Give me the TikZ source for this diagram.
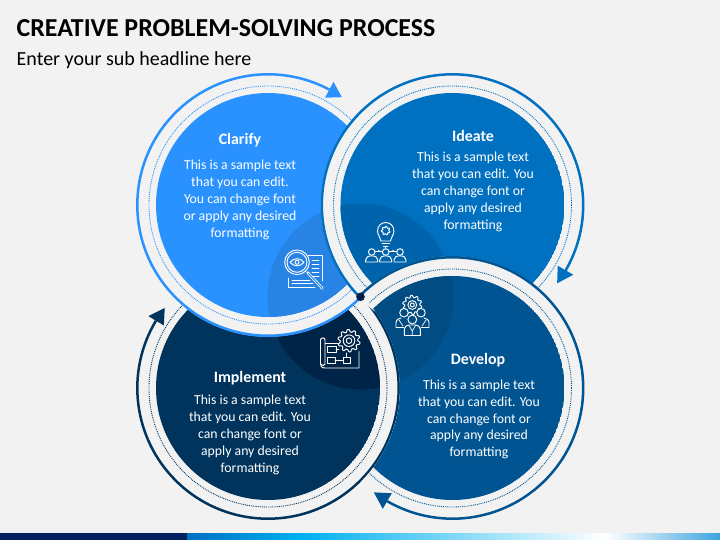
\documentclass[tikz,border=0pt]{standalone}
\usepackage{fontspec}
\setmainfont{Carlito}
\definecolor{bgc}{HTML}{F2F2F2}
\definecolor{clA}{HTML}{2A92FF}
\definecolor{clB}{HTML}{2783E4}
\definecolor{idA}{HTML}{0070C0}
\definecolor{idB}{HTML}{0064AC}
\definecolor{deA}{HTML}{005491}
\definecolor{deB}{HTML}{004C83}
\definecolor{imA}{HTML}{00345C}
\definecolor{imB}{HTML}{002447}
\definecolor{dotc}{HTML}{001F45}
\tikzset{
  ringline/.style={line width=2.5pt},
  dotline/.style={line width=.9pt,dash pattern=on .9pt off 1pt},
  ico/.style={draw=white,line width=.95pt,line cap=round,line join=round},
  bodytext/.style={text=white,align=center,font=\fontsize{13.75}{16.85}\selectfont,inner sep=0pt},
  headtext/.style={text=white,font=\bfseries\fontsize{15.9}{18}\selectfont,inner sep=0pt}
}
% cx cy fill overlay startangle endangle tipangle
\newcommand\blobshape[7]{%
  \begin{scope}[shift={(#1,#2)}]
    \fill[bgc] (0,0) circle[radius=131.7pt];
    \begin{scope}
      \clip (0,0) circle[radius=112pt];
      \fill[#3] (0,0) circle[radius=112pt];
      \fill[#4] (360.5-#1,296.5-#2) circle[radius=93pt];
    \end{scope}
    \draw[dotline,#3] (0,0) circle[radius=119pt];
    \draw[ringline,#3] (#5:130.7pt) arc[start angle=#5,end angle=#6,radius=130.7pt];
    \fill[#3] (#6:121.5pt) -- (#6:139.5pt) -- (#7:130.7pt) -- cycle;
  \end{scope}}
\newcommand\gearshape[5]{% cx cy ro ri teeth
  \begin{scope}[shift={(#1,#2)}]
    \pgfmathsetmacro{\dl}{360/(4*#5)}
    \foreach \k in {1,...,#5}{
      \pgfmathsetmacro{\aa}{\k*4*\dl}
      \pgfmathsetmacro{\ab}{\aa+\dl}
      \pgfmathsetmacro{\ac}{\aa+2*\dl}
      \pgfmathsetmacro{\ad}{\aa+3*\dl}
      \pgfmathsetmacro{\ae}{\aa+4*\dl}
      \draw[ico] (\aa:#4pt) -- (\ab:#3pt) -- (\ac:#3pt) -- (\ad:#4pt) -- (\ae:#4pt);
    }
  \end{scope}}
\begin{document}
\begin{tikzpicture}[x=1pt,y=1pt,yscale=-1]
\useasboundingbox (0,0) rectangle (720,540);
\fill[bgc] (0,0) rectangle (720,540);
% bottom bar
\fill[fill={rgb,255:red,0;green,32;blue,96}] (0,533) rectangle (187,540);
\shade[left color=idA,right color={rgb,255:red,0;green,176;blue,240}] (187,533) rectangle (300,540);
\shade[left color={rgb,255:red,0;green,176;blue,240},right color=white] (300,533) rectangle (606,540);
\shade[left color=white,right color={rgb,255:red,61;green,165;blue,224}] (606,533) rectangle (720,540);
% title
\node[anchor=base west,inner sep=0pt,font=\bfseries\fontsize{25.9}{28}\selectfont] (title) at (16.5,36.5) {CREATIVE PROBLEM-SOLVING PROCESS};
\node[anchor=base west,inner sep=0pt,font=\fontsize{20}{24}\selectfont] (subtitle) at (16.5,66) {Enter your sub headline here};
% discs in cyclic overlap: Develop is kept off Implement by a clip
\blobshape{268}{388}{imA}{imB}{315}{571}{577.8}
\blobshape{268}{205}{clA}{clB}{45}{298}{304.4}
\blobshape{452.5}{205}{idA}{idB}{135}{390}{396.8}
\begin{scope}[even odd rule]
  \clip (0,0) rectangle (720,540) (268,388) circle[radius=131.9pt];
  \blobshape{452.5}{388}{deA}{deB}{225}{480}{487}
\end{scope}
\fill[dotc] (360.5,296.8) circle[radius=4.3pt];
% texts
\node[headtext] (h1) at (240,140.5) {Clarify};
\node[bodytext] (b1) at (240,200) {This is a sample text\\that you can edit.\\You can change font\\or apply any desired\\formatting};
\node[headtext] (h2) at (473,136) {Ideate};
\node[bodytext] (b2) at (473,192) {This is a sample text\\that you can edit. You\\can change font or\\apply any desired\\formatting};
\node[headtext] (h3) at (250,378) {Implement};
\node[bodytext] (b3) at (250,435) {This is a sample text\\that you can edit. You\\can change font or\\apply any desired\\formatting};
\node[headtext] (h4) at (478,360) {Develop};
\node[bodytext] (b4) at (479,419.5) {This is a sample text\\that you can edit. You\\can change font or\\apply any desired\\formatting};
% icon: magnifier
\draw[ico] (308,255) -- (322,255) -- (322,281);
\foreach \yy in {260,264,268,272,276}{\draw[ico,line width=.7pt] (312,\yy) -- (319,\yy);}
\draw[ico] (288,278) -- (288,287) -- (315,287);
\draw[ico,line width=.7pt] (292,280) -- (310,280) (292,283.5) -- (313,283.5);
\fill[clB] (297,262.3) circle[radius=12.3pt];
\draw[ico] (297,262.3) circle[radius=12.3pt] (297,262.3) circle[radius=10pt];
\draw[ico] (290,262.3) .. controls (294,257.5) and (300,257.5) .. (304,262.3) .. controls (300,267) and (294,267) .. (290,262.3) -- cycle;
\draw[ico] (297,262.3) circle[radius=2pt];
\draw[ico,line width=2.6pt] (307.5,272.5) -- (322.5,288.5);
\draw[draw=clB,line width=1pt,line cap=round] (308.5,273.5) -- (322.5,288.5);
% icon: bulb and people
\draw[ico] (381,241) .. controls (381,237) and (377.5,236) .. (377.5,230.7) arc[start angle=180,end angle=360,radius=8.2pt] .. controls (393.9,236) and (390.5,237) .. (390.5,241) -- cycle;
\gearshape{385.7}{230.7}{4.3}{3.2}{7}
\draw[ico] (382,243.5) -- (389.5,243.5) (383.5,246) -- (388,246);
\draw[ico] (385.7,246) -- (385.7,248);
\foreach \xx in {371.7,385.7,400}{
  \draw[ico] (\xx,252) circle[radius=3.3pt];
  \draw[ico] (\xx-6,262) -- (\xx-6,260) .. controls (\xx-6,257) and (\xx-3,256) .. (\xx-2,256) -- (\xx+2,256) .. controls (\xx+3,256) and (\xx+6,257) .. (\xx+6,260) -- (\xx+6,262) -- cycle;
}
\draw[ico] (375,251) -- (382.4,251) (389,251) -- (396.7,251);
\fill[white] (378.7,251) circle[radius=1.1pt] (393,251) circle[radius=1.1pt];
% icon: gear and team
\gearshape{412.3}{305}{9.6}{7.6}{10}
\draw[ico] (412.3,305) circle[radius=4.4pt] (412.3,305) circle[radius=2pt];
\draw[ico] (396,327) -- (396,322.5) .. controls (396,319) and (400,318.5) .. (401,318) (429,327) -- (429,322.5) .. controls (429,319) and (425,318.5) .. (424,318);
\draw[ico] (396,327) -- (404,327) (421,327) -- (429,327);
\draw[ico,fill=deB] (404,312.7) circle[radius=4.3pt] (421,312.7) circle[radius=4.3pt];
\draw[ico,fill=deB] (404.3,335.5) -- (404.3,329) .. controls (404.3,326) and (407,325.5) .. (409,325) -- (415.5,325) .. controls (417.5,325.5) and (420.3,326) .. (420.3,329) -- (420.3,335.5) -- cycle;
\draw[ico,fill=deB] (412.3,319.5) circle[radius=4.4pt];
\draw[ico,line width=.7pt] (409,325.5) -- (412.3,331) -- (415.5,325.5) (412.3,331) -- (412.3,335.5);
\draw[ico,line width=.7pt] (399,320) -- (403,326) (426,320) -- (422,326);
% icon: blueprint and gear
\draw[ico] (325,343.5) -- (339,343.5) (359,351.5) -- (359,368) -- (325,368) .. controls (321.5,368) and (320.5,366) .. (320.5,364) -- (320.5,340) .. controls (320.5,337.5) and (325,337) .. (325,340) -- (325,364) .. controls (325,366) and (322,366) .. (320.5,364);
\draw[ico] (327,346.5) rectangle (336,352.5) (327,357.5) rectangle (335,363) (343,357.5) rectangle (350,363);
\draw[ico,line width=.8pt] (336,349.5) -- (339,349.5) (335,360.3) -- (343,360.3) (346.5,357.5) -- (346.5,353);
\gearshape{349}{340.7}{11.2}{8.8}{10}
\draw[ico] (349,340.7) circle[radius=5.8pt] (349,340.7) circle[radius=2.8pt];
\end{tikzpicture}
\end{document}
